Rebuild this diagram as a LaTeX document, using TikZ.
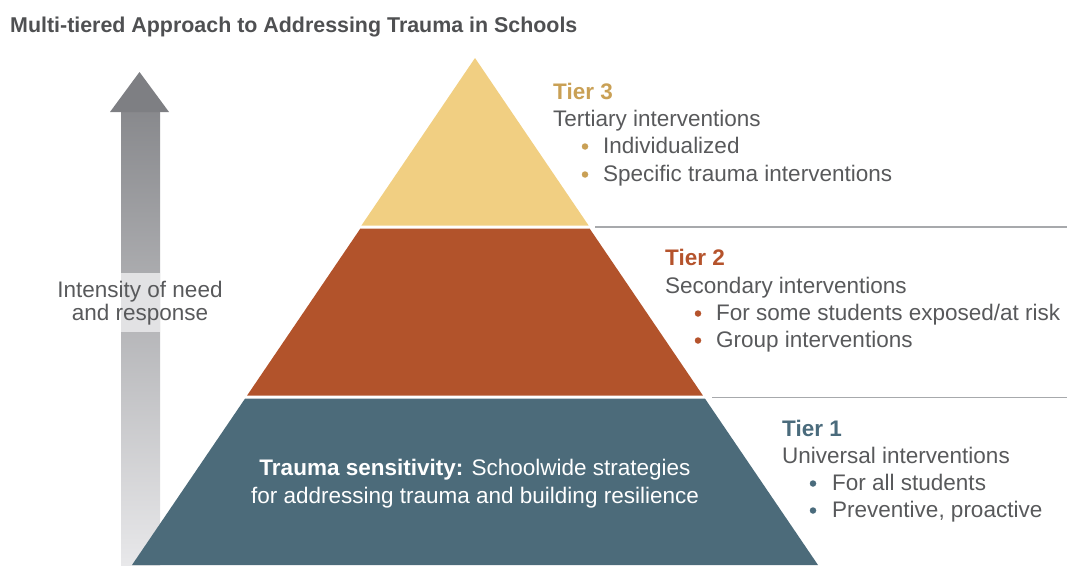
\documentclass[tikz,border=0pt]{standalone}
\usepackage{fontspec}
\setmainfont{Liberation Sans}
\definecolor{txtgray}{HTML}{58595B}
\definecolor{titlegray}{HTML}{4F5052}
\definecolor{tthree}{HTML}{F1CF82}
\definecolor{tthreelab}{HTML}{C9A055}
\definecolor{ttwo}{HTML}{B2532B}
\definecolor{ttwolab}{HTML}{B5532C}
\definecolor{tone}{HTML}{4C6B7A}
\definecolor{tonelab}{HTML}{4A6B7C}
\definecolor{rulegray}{HTML}{A7A9AC}
\definecolor{arrowdark}{HTML}{7E7F83}
\definecolor{arrowlight}{HTML}{E8E8EA}
\definecolor{bandgray}{HTML}{E2E2E4}
\tikzset{
  body/.style={anchor=base west, inner sep=0pt, text=txtgray, font=\fontsize{22.5}{27}\selectfont},
  tierlab/.style={anchor=base west, inner sep=0pt, font=\fontsize{22.5}{27}\selectfont\bfseries},
  bul/.style={circle, inner sep=0pt, minimum size=6.5pt},
  arrlab/.style={anchor=base, inner sep=0pt, text=txtgray, font=\fontsize{22.5}{27}\selectfont},
}
\begin{document}
\begin{tikzpicture}[x=1pt,y=-1pt]
\useasboundingbox (0,0) rectangle (1067,565);
% title
\node[anchor=base west, inner sep=0pt, text=titlegray, font=\fontsize{21.4}{25}\selectfont\bfseries] (title) at (10,32) {Multi-tiered Approach to Addressing Trauma in Schools};
% arrow
\shade[top color=arrowdark!92!white, bottom color=arrowlight] (121,111) rectangle (160,565);
\fill[arrowdark] (110,112) -- (139.5,72) -- (169,112) -- cycle;
\fill[bandgray] (121,273) rectangle (160,332);
\node[arrlab] (arrowlab1) at (140,297) {Intensity of need};
\node[arrlab] (arrowlab2) at (140,320) {and response};
% pyramid  apex (475,58), half width = 0.6785*(y-58)
\fill[tthree] (475,58) -- (588.6,225.5) -- (361.4,225.5) -- cycle;
\fill[ttwo] (360.4,228.5) -- (589.6,228.5) -- (702.9,395.5) -- (247.1,395.5) -- cycle;
\fill[tone] (245.1,398.5) -- (704.9,398.5) -- (818,565) -- (132,565) -- cycle;
% rules
\draw[rulegray, line width=1.5pt] (595,227) -- (1067,227);
\draw[rulegray, line width=1.5pt] (712,397.5) -- (1067,397.5);
% pyramid text
\node[anchor=base, inner sep=0pt, text=white, font=\fontsize{22.5}{27}\selectfont] (base1) at (475,475) {\textbf{Trauma sensitivity:} Schoolwide strategies};
\node[anchor=base, inner sep=0pt, text=white, font=\fontsize{22.5}{27}\selectfont] (base2) at (475,503) {for addressing trauma and building resilience};
% tier 3
\node[tierlab, text=tthreelab] (t3) at (553,99) {Tier 3};
\node[body] (t3a) at (553,126) {Tertiary interventions};
\node[body] (t3b) at (603,153) {Individualized};
\node[body] (t3c) at (603,181) {Specific trauma interventions};
\node[bul, fill=tthreelab] (t3bb) at (585,146.5) {};
\node[bul, fill=tthreelab] (t3cb) at (585,174.5) {};
% tier 2
\node[tierlab, text=ttwolab] (t2) at (665,265) {Tier 2};
\node[body] (t2a) at (665,293) {Secondary interventions};
\node[body] (t2b) at (716,320) {For some students exposed/at risk};
\node[body] (t2c) at (716,347) {Group interventions};
\node[bul, fill=ttwolab] (t2bb) at (698,313.5) {};
\node[bul, fill=ttwolab] (t2cb) at (698,340.5) {};
% tier 1
\node[tierlab, text=tonelab] (t1) at (782,436) {Tier 1};
\node[body] (t1a) at (782,463) {Universal interventions};
\node[body] (t1b) at (832,490) {For all students};
\node[body] (t1c) at (832,517) {Preventive, proactive};
\node[bul, fill=tonelab] (t1bb) at (813,483.5) {};
\node[bul, fill=tonelab] (t1cb) at (813,510.5) {};
\end{tikzpicture}
\end{document}
